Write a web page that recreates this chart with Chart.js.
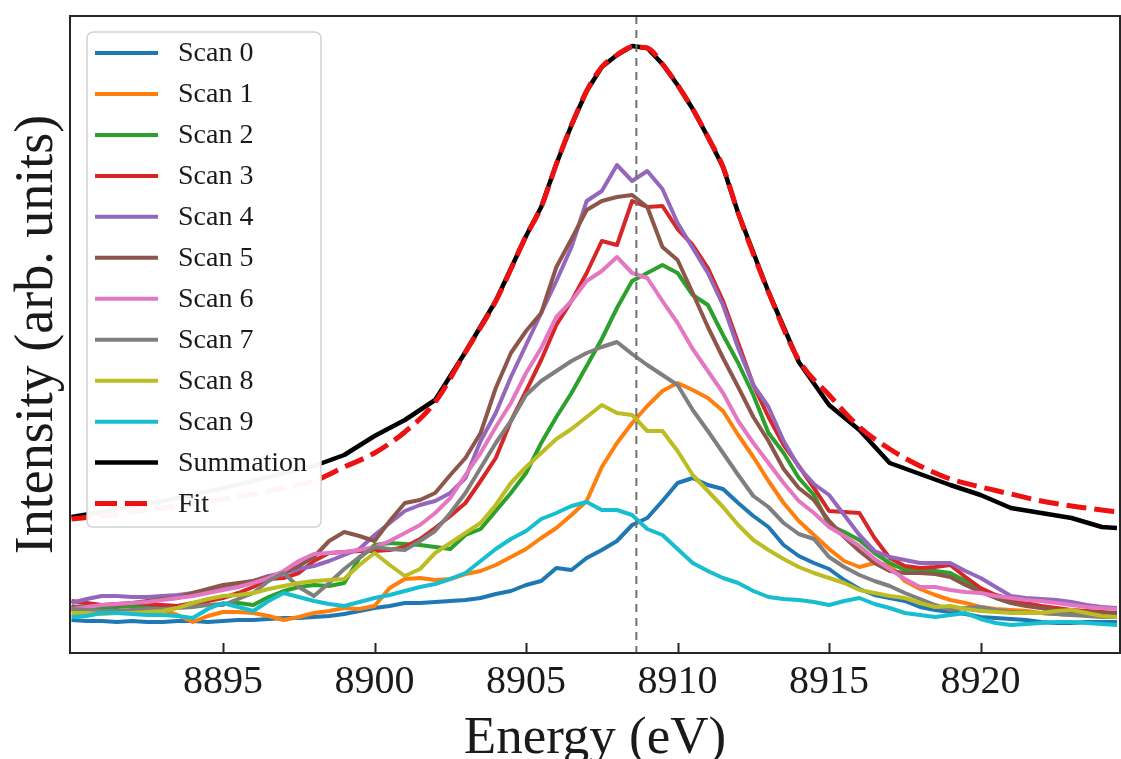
<!DOCTYPE html>
<html>
<head>
<meta charset="utf-8">
<title>Energy scans</title>
<script src="https://cdn.jsdelivr.net/npm/chart.js@4.4.1/dist/chart.umd.min.js"></script>
<style>
  html, body { margin: 0; padding: 0; background: #fff; }
  #chart { display: block; }
</style>
</head>
<body>
<canvas id="chart" width="1121" height="759"></canvas>
<script>
// energy grid shared by the individual scans (eV)
const energy = [
  8890, 8890.5, 8891, 8891.5, 8892, 8892.5, 8893, 8893.5, 8894, 8894.5,
  8895, 8895.5, 8896, 8896.5, 8897, 8897.5, 8898, 8898.5, 8899, 8899.5,
  8900, 8900.5, 8901, 8901.5, 8902, 8902.5, 8903, 8903.5, 8904, 8904.5,
  8905, 8905.5, 8906, 8906.5, 8907, 8907.5, 8908, 8908.5, 8909, 8909.5,
  8910, 8910.5, 8911, 8911.5, 8912, 8912.5, 8913, 8913.5, 8914, 8914.5,
  8915, 8915.5, 8916, 8916.5, 8917, 8917.5, 8918, 8918.5, 8919, 8919.5,
  8920, 8920.5, 8921, 8921.5, 8922, 8922.5, 8923, 8923.5, 8924, 8924.5
];

const scan0 = [
  33, 32, 32, 31, 32, 31, 31, 32, 32, 31,
  32, 33, 33, 34, 35, 35, 36, 37, 39, 42,
  45, 47, 50, 50, 51, 52, 53, 55, 59, 62,
  68, 72, 85, 83, 95, 103, 112, 128, 135, 152,
  170, 175, 168, 164, 150, 137, 126, 108, 97, 90,
  84, 73, 64, 58, 55, 52, 46, 43, 41, 39,
  36, 35, 34, 33, 31, 30, 30, 31, 31, 31
];
const scan1 = [
  43, 42, 42, 41, 42, 41, 43, 38, 31, 37,
  41, 41, 40, 37, 33, 36, 40, 42, 45, 44,
  47, 65, 74, 75, 73, 74, 79, 82, 88, 96,
  104, 115, 125, 138, 152, 186, 210, 230, 247, 262,
  270, 263, 255, 242, 218, 196, 172, 150, 132, 118,
  104, 92, 86, 90, 88, 72, 64, 58, 53, 50,
  46, 44, 43, 42, 40, 39, 38, 38, 37, 37
];
const scan2 = [
  46, 46, 45, 46, 47, 46, 46, 47, 48, 48,
  49, 50, 48, 56, 62, 66, 68, 67, 70, 95,
  108, 110, 109, 108, 106, 104, 118, 124, 142, 160,
  180, 210, 236, 260, 287, 314, 345, 372, 380, 388,
  380, 358, 348, 318, 290, 258, 220, 200, 175, 158,
  128, 121, 113, 100, 90, 83, 83, 82, 80, 72,
  62, 56, 51, 48, 45, 42, 40, 39, 37, 36
];
const scan3 = [
  52, 50, 48, 49, 50, 49, 48, 47, 50, 52,
  55, 60, 66, 74, 75, 80, 92, 100, 101, 102,
  102, 103, 106, 114, 125, 137, 150, 172, 195, 232,
  262, 293, 328, 352, 380, 412, 408, 452, 446, 447,
  424, 408, 385, 352, 310, 268, 236, 208, 187, 165,
  142, 141, 140, 115, 95, 87, 85, 86, 88, 76,
  65, 58, 54, 50, 47, 45, 43, 42, 41, 40
];
const scan4 = [
  50, 54, 57, 57, 56, 56, 57, 58, 60, 63,
  65, 69, 72, 77, 80, 84, 87, 92, 98, 104,
  118, 130, 142, 148, 152, 160, 175, 212, 240, 276,
  308, 340, 372, 406, 452, 462, 488, 472, 482, 464,
  430, 405, 380, 348, 305, 268, 246, 212, 186, 169,
  158, 138, 118, 102, 96, 93, 90, 90, 90, 82,
  75, 66, 57, 55, 54, 53, 51, 48, 46, 45
];
const scan5 = [
  46, 47, 48, 48, 50, 52, 54, 55, 60, 64,
  68, 70, 72, 76, 80, 87, 96, 112, 121, 117,
  112, 132, 150, 153, 160, 178, 195, 220, 265, 300,
  322, 340, 386, 414, 443, 452, 456, 458, 446, 406,
  393, 360, 326, 295, 266, 236, 212, 184, 165, 153,
  132, 116, 102, 90, 82, 80, 80, 79, 76, 68,
  61, 55, 50, 47, 45, 43, 42, 41, 40, 40
];
const scan6 = [
  44, 46, 48, 49, 50, 51, 53, 55, 57, 60,
  63, 66, 70, 75, 82, 92, 99, 100, 101, 103,
  106, 112, 120, 128, 140, 155, 178, 200, 226, 250,
  280, 305, 336, 352, 372, 382, 396, 380, 375, 352,
  330, 304, 282, 260, 232, 210, 190, 170, 152, 140,
  126, 117, 107, 94, 84, 74, 66, 66, 63, 61,
  60, 57, 55, 53, 52, 50, 48, 46, 45, 44
];
const scan7 = [
  44, 43, 42, 42, 43, 44, 44, 45, 46, 48,
  48, 54, 60, 72, 80, 66, 57, 70, 84, 96,
  106, 104, 103, 112, 122, 140, 160, 185, 210, 232,
  258, 272, 282, 292, 300, 306, 311, 299, 288, 278,
  268, 243, 222, 200, 178, 157, 146, 130, 119, 114,
  96, 86, 78, 72, 67, 60, 54, 48, 43, 45,
  46, 43, 41, 40, 40, 39, 38, 37, 36, 36
];
const scan8 = [
  40, 40, 39, 40, 40, 41, 42, 45, 50, 54,
  57, 58, 60, 64, 67, 70, 72, 73, 74, 88,
  100, 88, 77, 84, 100, 110, 120, 130, 148, 170,
  186, 200, 214, 224, 236, 248, 240, 238, 222, 222,
  202, 178, 162, 146, 128, 113, 103, 94, 86, 80,
  75, 70, 63, 60, 57, 55, 50, 46, 47, 44,
  42, 41, 40, 40, 40, 42, 43, 40, 37, 36
];
const scan9 = [
  36, 37, 40, 40, 39, 38, 38, 37, 35, 44,
  50, 46, 42, 52, 60, 56, 52, 49, 47, 51,
  55, 58, 62, 66, 69, 74, 80, 92, 104, 114,
  122, 134, 140, 147, 151, 143, 143, 138, 124, 118,
  104, 90, 82, 75, 70, 62, 56, 54, 53, 51,
  48, 52, 55, 49, 45, 40, 38, 36, 38, 40,
  34, 30, 28, 29, 30, 31, 31, 30, 29, 28
];

// summed spectrum and its fitted profile
const sumEnergy = [
  8890, 8891, 8892, 8893, 8894, 8895, 8896, 8897, 8898, 8899,
  8900, 8901, 8902, 8903, 8904, 8905, 8905.5, 8906, 8906.5, 8907,
  8907.5, 8908, 8908.5, 8909, 8909.5, 8910, 8910.5, 8911, 8911.5, 8912,
  8913, 8914, 8915, 8916, 8917, 8918, 8919, 8920, 8921, 8922,
  8923, 8924, 8924.5
];
const summation = [
  136, 141, 147, 152, 158, 165, 172, 180, 187, 198,
  217, 233, 253, 301, 352, 417, 446, 489, 528, 562,
  586, 598, 607, 605, 589, 568, 544, 516, 486, 440,
  361, 291, 248, 223, 190, 179, 168, 158, 145, 140,
  135, 126, 125
];
const fit = [
  134, 137, 141, 145, 149, 154, 159, 165, 172, 186,
  200, 221, 251, 301, 352, 417, 446, 489, 528, 562,
  586, 598, 606, 605, 589, 568, 544, 516, 486, 440,
  361, 293, 258, 226, 204, 187, 174, 166, 159, 152,
  147, 143, 141
];

const peakEnergy = 8908.64;
const tickValues = [8895, 8900, 8905, 8910, 8915, 8920];

const scans = [scan0, scan1, scan2, scan3, scan4, scan5, scan6, scan7, scan8, scan9];
const scanColors = ['#1f77b4', '#ff7f0e', '#2ca02c', '#d62728', '#9467bd',
                    '#8c564b', '#e377c2', '#7f7f7f', '#bcbd22', '#17becf'];
const textColor = '#1a1a1a';

function toPoints(xs, ys) {
  return xs.map((x, i) => ({ x: x, y: ys[i] }));
}

const datasets = scans.map((values, i) => ({
  label: 'Scan ' + i,
  data: toPoints(energy, values),
  borderColor: scanColors[i],
  borderWidth: 4,
  order: 20 - i
}));
datasets.push({
  label: 'Summation',
  data: toPoints(sumEnergy, summation),
  borderColor: '#000000',
  borderWidth: 4.5,
  order: 2
});
datasets.push({
  label: 'Fit',
  data: toPoints(sumEnergy, fit),
  borderColor: '#ee1111',
  borderWidth: 5,
  borderDash: [20, 8],
  cubicInterpolationMode: 'monotone',
  order: 1
});

// frame, inward ticks and the dashed marker at the peak
const frame = {
  id: 'frame',
  afterDatasetsDraw(chart) {
    const { ctx, chartArea: a, scales } = chart;
    ctx.save();
    const px = scales.x.getPixelForValue(peakEnergy);
    ctx.strokeStyle = '#707070';
    ctx.lineWidth = 2;
    ctx.setLineDash([8, 6]);
    ctx.beginPath();
    ctx.moveTo(px, a.top);
    ctx.lineTo(px, a.bottom);
    ctx.stroke();
    ctx.setLineDash([]);

    ctx.strokeStyle = '#262626';
    ctx.lineWidth = 2;
    scales.x.ticks.forEach(t => {
      const x = Math.round(scales.x.getPixelForValue(t.value)) + 0.5;
      ctx.beginPath();
      ctx.moveTo(x, a.bottom);
      ctx.lineTo(x, a.bottom - 10);
      ctx.stroke();
    });
    ctx.strokeRect(a.left, a.top, a.right - a.left, a.bottom - a.top);
    ctx.restore();
  }
};

// legend box in the upper left corner of the plot
const legendBox = {
  id: 'legendBox',
  afterDraw(chart) {
    const { ctx, chartArea: a } = chart;
    const x0 = a.left + 17, y0 = a.top + 16, w = 234, h = 495;
    ctx.save();
    ctx.fillStyle = 'rgba(255,255,255,0.96)';
    ctx.strokeStyle = '#d2d2d2';
    ctx.lineWidth = 1.5;
    ctx.beginPath();
    ctx.roundRect(x0, y0, w, h, 6);
    ctx.fill();
    ctx.stroke();

    ctx.font = '28px "Liberation Serif", "Times New Roman", serif';
    ctx.textBaseline = 'middle';
    chart.data.datasets.forEach((ds, i) => {
      const y = y0 + 21 + i * 40.96;
      const len = ds.borderDash ? 53 : 63;
      ctx.strokeStyle = ds.borderColor;
      ctx.lineWidth = ds.borderWidth;
      ctx.setLineDash(ds.borderDash ? [22, 8] : []);
      ctx.beginPath();
      ctx.moveTo(x0 + 8, y);
      ctx.lineTo(x0 + 8 + len, y);
      ctx.stroke();
      ctx.fillStyle = textColor;
      ctx.fillText(ds.label, x0 + 91, y + 1);
    });
    ctx.restore();
  }
};

Chart.defaults.font.family = '"Liberation Serif", "Times New Roman", serif';
Chart.defaults.color = textColor;

new Chart(document.getElementById('chart'), {
  type: 'line',
  data: { datasets: datasets },
  options: {
    responsive: false,
    animation: false,
    devicePixelRatio: 1,
    layout: { padding: { top: 16, right: 1, left: 0, bottom: 0 } },
    elements: {
      point: { radius: 0 },
      line: { tension: 0, fill: false, borderJoinStyle: 'round' }
    },
    plugins: {
      legend: { display: false },
      tooltip: { enabled: false }
    },
    scales: {
      x: {
        type: 'linear',
        min: 8889.95,
        max: 8924.6,
        afterBuildTicks: (axis) => { axis.ticks = tickValues.map(v => ({ value: v })); },
        afterFit: (axis) => { axis.height = 106; },
        grid: { display: false },
        border: { display: false },
        ticks: {
          font: { size: 40, lineHeight: 1.0 },
          padding: 1,
          maxRotation: 0,
          autoSkip: false,
          color: textColor,
          callback: (v) => String(v)
        },
        title: {
          display: true,
          text: 'Energy (eV)',
          color: textColor,
          font: { size: 53, lineHeight: 0.6 },
          padding: { top: 0, bottom: 4 }
        }
      },
      y: {
        min: 0,
        max: 637,
        afterFit: (axis) => { axis.width = 70; },
        grid: { display: false },
        border: { display: false },
        ticks: { display: false },
        title: {
          display: true,
          text: 'Intensity (arb. units)',
          color: textColor,
          font: { size: 54, lineHeight: 1.2 },
          padding: { top: 5, bottom: 0 }
        }
      }
    }
  },
  plugins: [frame, legendBox]
});
</script>
</body>
</html>
